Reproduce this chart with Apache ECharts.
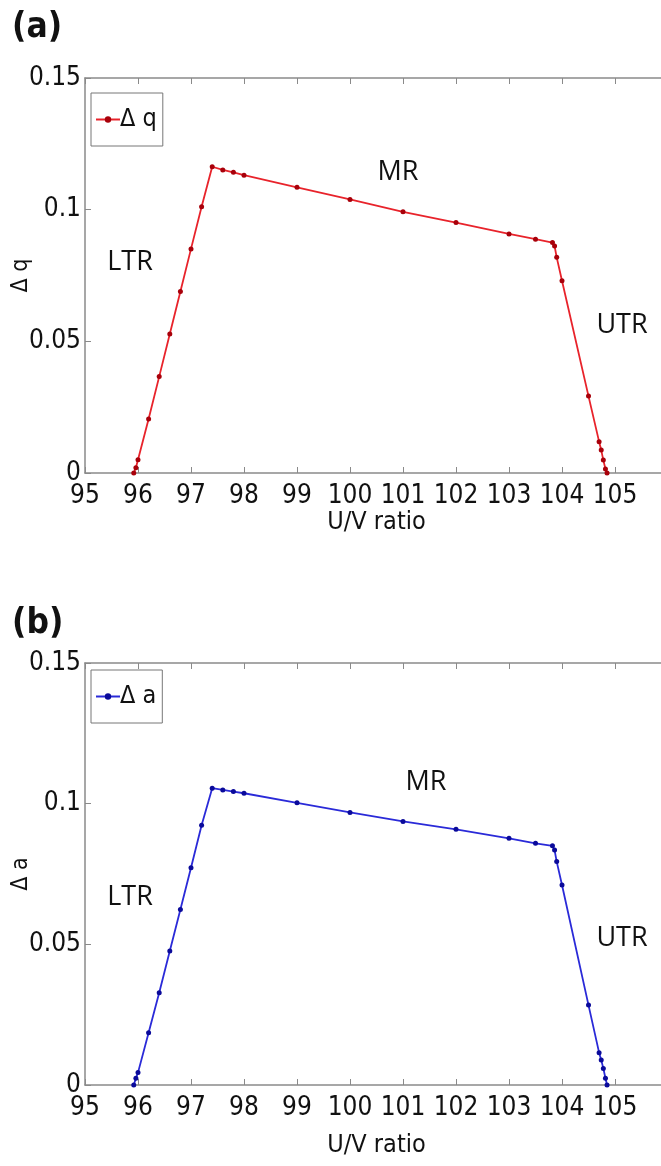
<!DOCTYPE html>
<html>
<head>
<meta charset="utf-8">
<script src="https://cdn.jsdelivr.net/npm/echarts@6/dist/echarts.min.js"></script>
<style>
  html, body { margin: 0; padding: 0; background: #fff; }
  #main { width: 661px; height: 1166px; }
</style>
</head>
<body>
<div id="main"></div>
<script>
// U/V ratio sampled along the curve (same for both panels)
const uvRatio = [95.92, 95.96, 96.0, 96.2, 96.4, 96.6, 96.8, 97.0, 97.2, 97.4, 97.6, 97.8, 98,
  99, 100, 101, 102, 103, 103.5, 103.82, 103.86, 103.9, 104.0, 104.5, 104.7, 104.74, 104.78, 104.82, 104.85];
// panel (a) Δq
const deltaQ = [0, 0.002, 0.005, 0.0205, 0.0366, 0.0528, 0.0689, 0.0851, 0.1011, 0.1163, 0.1151, 0.1142, 0.1131,
  0.1085, 0.1039, 0.0992, 0.0951, 0.0908, 0.0888, 0.0875, 0.0862, 0.0819, 0.073, 0.0292, 0.0119, 0.0087, 0.0049, 0.0015, 0];
// panel (b) Δa
const deltaA = [0, 0.0024, 0.0044, 0.0186, 0.0328, 0.0476, 0.0624, 0.0772, 0.0923, 0.1055, 0.1049, 0.1043, 0.1037,
  0.1003, 0.0969, 0.0937, 0.0909, 0.0877, 0.0859, 0.085, 0.0835, 0.0794, 0.0711, 0.0284, 0.0115, 0.0089, 0.0059, 0.0024, 0];
const xTicks = [95, 106, 1];   // min, max, interval
const yTicks = [0, 0.15, 0.05];

const FONT = "'Liberation Sans Narrow', 'DejaVu Sans Condensed', 'Liberation Sans', sans-serif";
const REGION_FONT = "'Open Sans', 'Lato', sans-serif";
const AXIS_GRAY = '#8a8a8a';

const chart = echarts.init(document.getElementById('main'), null, { renderer: 'canvas' });

function pairs(xs, ys) {
  return xs.map((x, i) => [x, ys[i]]);
}

function bottomAxis(gi, nameGap) {
  return {
    type: 'value', gridIndex: gi, position: 'bottom',
    min: xTicks[0], max: xTicks[1], interval: xTicks[2],
    name: 'U/V ratio', nameLocation: 'middle', nameGap: nameGap,
    nameTextStyle: { fontFamily: FONT, fontSize: 25, color: '#111' },
    axisLine: { onZero: false, lineStyle: { color: AXIS_GRAY, width: 1.5 } },
    axisTick: { inside: true, length: 6, lineStyle: { color: AXIS_GRAY } },
    axisLabel: {
      margin: 10, fontFamily: FONT, fontSize: 26, color: '#111',
      formatter: v => (v >= 106 ? '' : String(v))
    },
    splitLine: { show: false }
  };
}
function topAxis(gi) {
  return {
    type: 'value', gridIndex: gi, position: 'top',
    min: xTicks[0], max: xTicks[1], interval: xTicks[2],
    axisLine: { onZero: false, lineStyle: { color: AXIS_GRAY, width: 1.5 } },
    axisTick: { inside: true, length: 6, lineStyle: { color: AXIS_GRAY } },
    axisLabel: { show: false },
    splitLine: { show: false }
  };
}
function leftAxis(gi, name) {
  return {
    type: 'value', gridIndex: gi, position: 'left',
    min: yTicks[0], max: yTicks[1], interval: yTicks[2],
    name: name, nameLocation: 'middle', nameGap: 52, nameRotate: 90, nameMoveOverlap: false,
    nameTextStyle: { fontFamily: FONT, fontSize: 23, color: '#111' },
    axisLine: { onZero: false, lineStyle: { color: AXIS_GRAY, width: 1.5 } },
    axisTick: { inside: true, length: 6, lineStyle: { color: AXIS_GRAY } },
    axisLabel: { margin: 4, fontFamily: FONT, fontSize: 26, color: '#111' },
    splitLine: { show: false }
  };
}

function lineSeries(name, xi, yi, ys, lineColor, dotColor) {
  return {
    name: name, type: 'line', xAxisIndex: xi, yAxisIndex: yi,
    data: pairs(uvRatio, ys),
    symbol: 'circle', symbolSize: 5, showSymbol: true,
    lineStyle: { color: lineColor, width: 1.8 },
    itemStyle: { color: dotColor, borderWidth: 0 },
    z: 3
  };
}

function regionText(x, y, t) {
  return {
    type: 'text', x: x, y: y,
    style: { text: t, fill: '#111', font: '400 27px ' + REGION_FONT, textAlign: 'center', textVerticalAlign: 'middle' }
  };
}

const legendCommon = {
  orient: 'vertical', itemWidth: 24, itemHeight: 8, itemGap: 0,
  padding: [14, 6, 14, 4],
  borderColor: '#777', borderWidth: 1, backgroundColor: '#fff',
  textStyle: { fontFamily: FONT, fontSize: 25, color: '#111', padding: [0, 0, 0, -5] }
};

let option = {
  backgroundColor: '#fff',
  animation: false,
  grid: [
    { left: 85, top: 78, width: 583, height: 395, outerBoundsMode: 'none', containLabel: false },
    { left: 85, top: 663, width: 583, height: 422, outerBoundsMode: 'none', containLabel: false }
  ],
  xAxis: [bottomAxis(0, 36), topAxis(0), bottomAxis(1, 48), topAxis(1)],
  yAxis: [leftAxis(0, 'Δ q'), leftAxis(1, 'Δ a')],
  legend: [
    Object.assign({ data: ['Δ q'], left: 91, top: 93 }, legendCommon),
    Object.assign({ data: ['Δ a'], left: 91, top: 670 }, legendCommon)
  ],
  series: [
    lineSeries('Δ q', 0, 0, deltaQ, '#e8232b', '#a8000a'),
    lineSeries('Δ a', 2, 1, deltaA, '#2a2ad8', '#0a0a9a')
  ],
  graphic: [
    { type: 'text', x: 12, y: 10, style: { text: '(a)', fill: '#111', font: 'bold 35px ' + FONT } },
    { type: 'text', x: 12, y: 606, style: { text: '(b)', fill: '#111', font: 'bold 35px ' + FONT } },
    regionText(130, 262, 'LTR'),
    regionText(398, 172, 'MR'),
    regionText(622, 325, 'UTR'),
    regionText(130, 897, 'LTR'),
    regionText(426, 782, 'MR'),
    regionText(622, 938, 'UTR')
  ]
};

chart.setOption(option);
window.onresize = () => {
  chart.resize();
};
</script>
</body>
</html>
